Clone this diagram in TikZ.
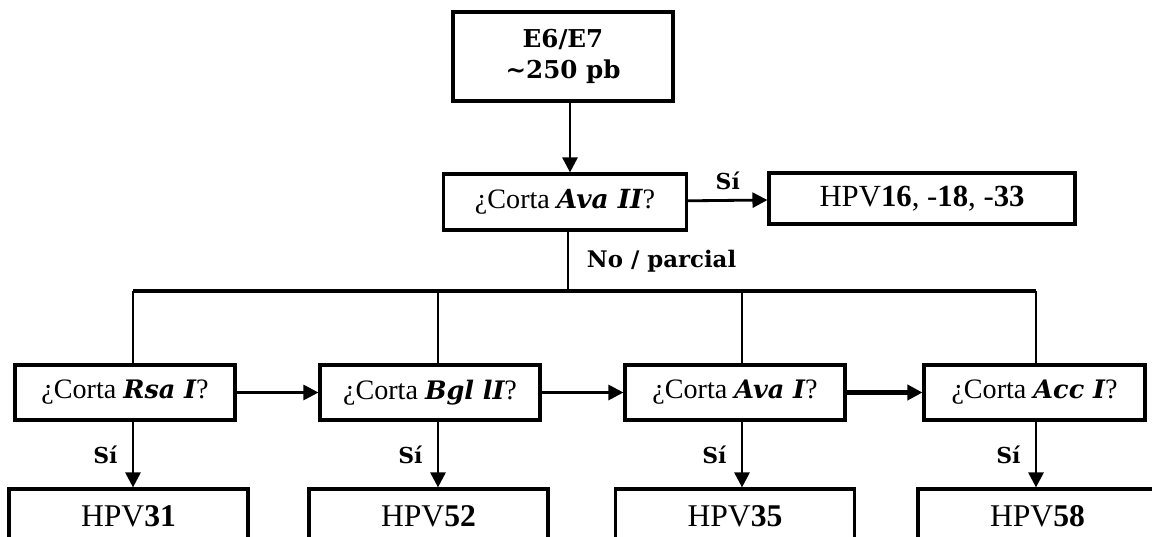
\documentclass[tikz,border=0pt]{standalone}
\usepackage{fontspec}
\setmainfont{Liberation Serif}
\newfontfamily\dvs{DejaVu Serif}
\usetikzlibrary{positioning,arrows.meta}
\newcommand{\enz}[1]{{\dvs\bfseries\itshape #1}}

\begin{document}
\begin{tikzpicture}[x=0.02cm,y=-0.02cm,
 b/.style={draw,line width=1.8pt,inner sep=0pt,align=center},
 q/.style={b,minimum width=4.4cm,minimum height=1.1cm,font=\fontsize{16}{19}\selectfont},
 h/.style={b,minimum width=4.78cm,minimum height=1.08cm,font=\fontsize{18}{21}\selectfont},
 l/.style={line width=1.6pt},
 a/.style={l,-{Triangle[length=0.3cm,width=0.3cm]}},
 s/.style={inner sep=0pt,font=\fontsize{12.5}{15}\dvs\bfseries}]
\useasboundingbox (0,0) rectangle (1152,537);
\node[b,minimum width=4.4cm,minimum height=1.78cm,font=\fontsize{14}{18}\dvs\bfseries] (top) at (563,56.5) {E6/E7\\\textasciitilde250 pb};
\node[b,minimum width=4.86cm,minimum height=1.12cm,font=\fontsize{16}{19}\selectfont] (ava2) at (565,202) {¿Corta {\fontsize{15}{17}\selectfont\enz{Ava II}}?};
\node[h,minimum width=6.12cm,minimum height=1.02cm,font=\fontsize{17.5}{20}\selectfont] (h0) at (922,198.5) {HPV\textbf{16}, -\textbf{18}, -\textbf{33}};
% segunda fila
\node[q] (q1) at (125,392.5) {¿Corta {\fontsize{14.5}{17}\selectfont\enz{Rsa I}}?};
\node[q] (q2) at (430,392.5) {¿Corta {\fontsize{14.5}{17}\selectfont\enz{Bgl lI}}?};
\node[q] (q3) at (735,392.5) {¿Corta {\fontsize{14.5}{17}\selectfont\enz{Ava I}}?};
\node[q,minimum width=4.42cm] (q4) at (1034.5,392.5) {¿Corta {\fontsize{14.5}{17}\selectfont\enz{Acc I}}?};
% tipos
\node[h] (h1) at (128.5,516) {HPV\textbf{31}};
\node[h] (h2) at (428.5,516) {HPV\textbf{52}};
\node[h] (h3) at (735,516) {HPV\textbf{35}};
\node[h] (h4) at (1037.5,516) {HPV\textbf{58}};
\coordinate (d1) at (133,291);\coordinate (d2) at (438,291);
\coordinate (d3) at (742,291);\coordinate (d4) at (1036,291);
\draw[a] (top.south -| 570,0)--(ava2.north -| 570,0);
\draw[a] (ava2)--(h0) node[midway,above=5pt,s]{Sí};
\draw[l] (ava2.south -| 568,0)--(d1 -| 568,0) node[midway,right=10pt,s,font=\fontsize{13}{16}\dvs\bfseries]{No / parcial};
\draw[line width=2.2pt] (d1)--(d4);
\draw[l] (d1)--(d1 |- q1.north);\draw[l] (d2)--(d2 |- q2.north);
\draw[l] (d3)--(d3 |- q3.north);\draw[l] (d4)--(d4 |- q4.north);
\draw[a] (q1)--(q2);\draw[a] (q2)--(q3);\draw[a,line width=2.4pt] (q3)--(q4);
\draw[a] (d1 |- q1.south)--(d1 |- h1.north) node[midway,left=8pt,s]{Sí};
\draw[a] (d2 |- q2.south)--(d2 |- h2.north) node[midway,left=8pt,s]{Sí};
\draw[a] (d3 |- q3.south)--(d3 |- h3.north) node[midway,left=8pt,s]{Sí};
\draw[a] (d4 |- q4.south)--(d4 |- h4.north) node[midway,left=8pt,s]{Sí};
\end{tikzpicture}
\end{document}
